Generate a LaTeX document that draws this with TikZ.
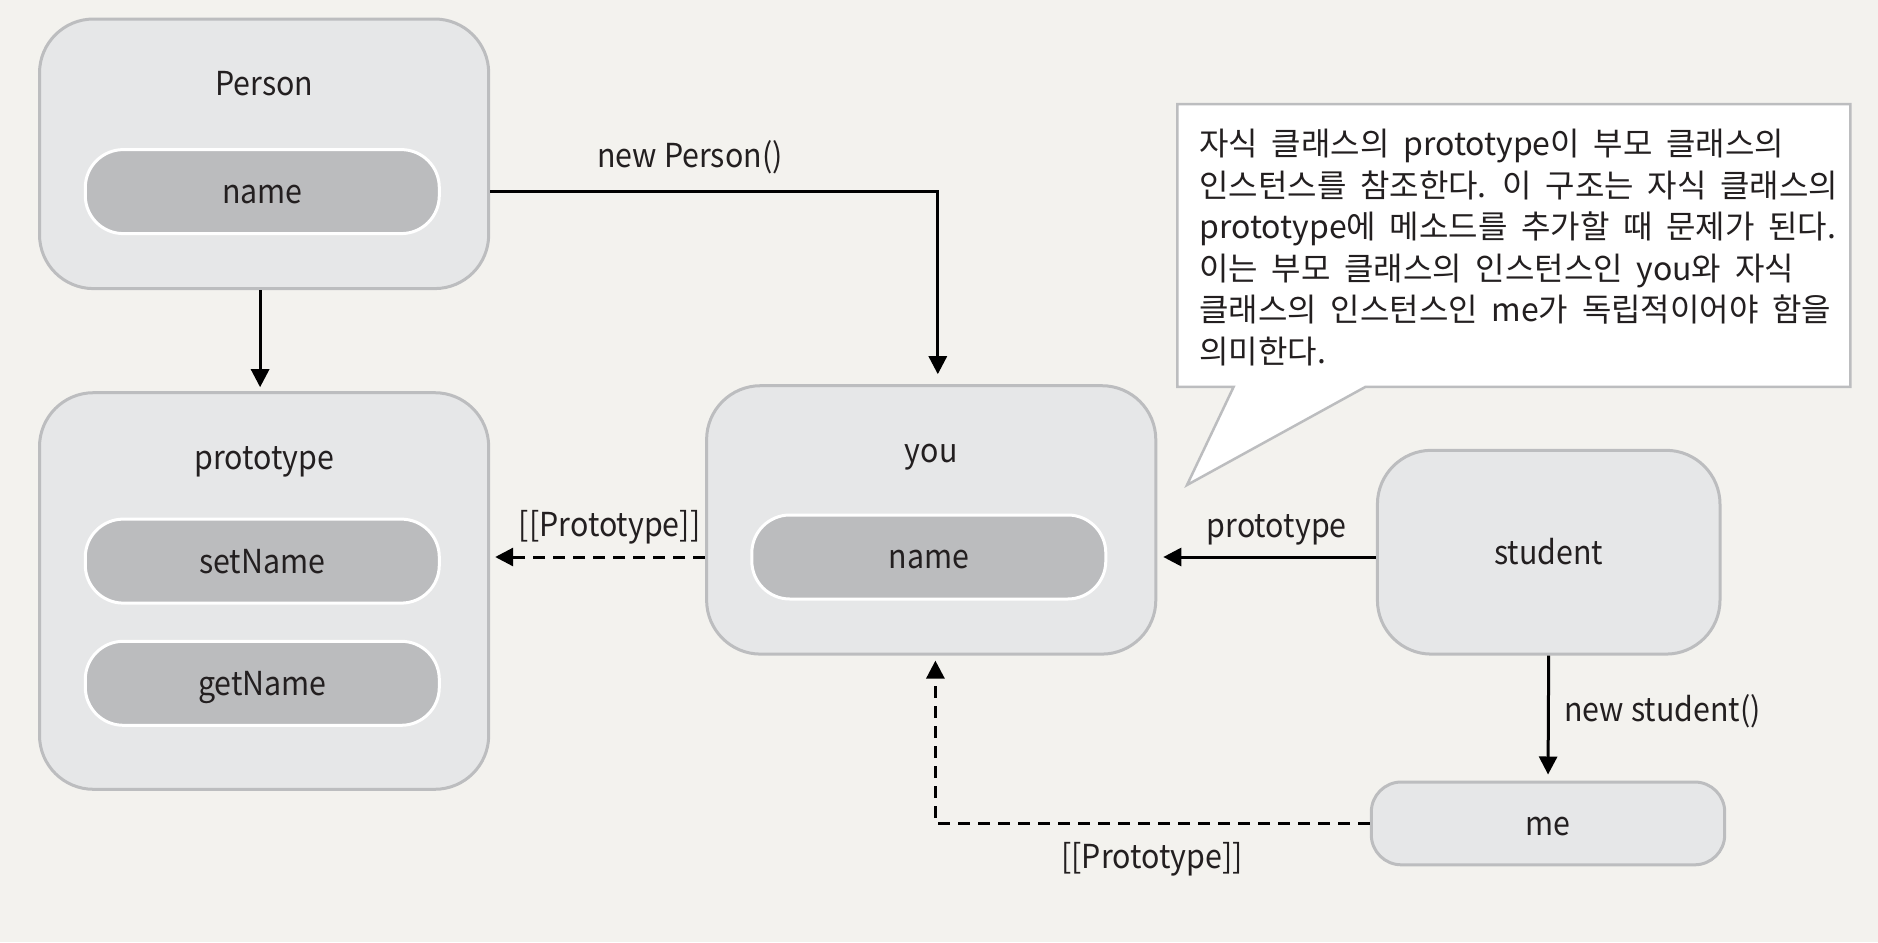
\documentclass[tikz,border=0pt]{standalone}
\usepackage{fontspec}
\setmainfont{Noto Sans CJK KR}
\newfontfamily\lblfont[FakeStretch=0.92]{Noto Sans CJK KR}
\newfontfamily\notefont[WordSpace=1.9]{Noto Sans CJK KR}
\usetikzlibrary{arrows.meta}
\definecolor{paper}{HTML}{F3F2EE}
\definecolor{boxfill}{HTML}{E6E7E8}
\definecolor{boxline}{HTML}{BCBDBF}
\definecolor{innerfill}{HTML}{BBBCBE}
\definecolor{ink}{HTML}{231F20}
\tikzset{
  outerbox/.style={rounded corners=27pt, fill=boxfill, draw=boxline, line width=1.5pt, inner sep=0pt},
  lbl/.style={font=\lblfont\fontsize{16.5pt}{19pt}\selectfont, text=ink, inner sep=0pt, text height=11.9pt, text depth=0pt},
  innerbox/.style={lbl, rounded corners=19pt, fill=innerfill, draw=white, line width=1.5pt, minimum width=177pt, minimum height=42pt},
  arr/.style={line width=1.5pt, -{Triangle[width=9pt,length=9pt]}},
  darr/.style={arr, dash pattern=on 6pt off 4pt}
}
\begin{document}
\begin{tikzpicture}[x=0.5pt,y=-0.5pt]
\useasboundingbox[fill=paper] (0,0) rectangle (1878,942);

% Person
\node[outerbox, minimum width=224.6pt, minimum height=134.8pt] (Person) at (264.1,153.8) {};
\node[lbl] (PersonL) at (264.1,83.8) {Person};
\node[innerbox] (pname) at (262.3,191.6) {name};

% prototype
\node[outerbox, minimum width=224.6pt, minimum height=198.3pt] (proto) at (264.1,591) {};
\node[lbl] (protoL) at (264.1,457.5) {prototype};
\node[innerbox] (setN) at (262.3,561.1) {setName};
\node[innerbox] (getN) at (262.3,683.3) {getName};

% you
\node[outerbox, minimum width=224.6pt, minimum height=134.2pt] (you) at (931.2,519.9) {};
\node[lbl] (youL) at (931.2,450.3) {you};
\node[innerbox] (yname) at (928.8,557) {name};

% student
\node[outerbox, minimum width=171.3pt, minimum height=101.9pt] (student) at (1548.7,552.2) {};
\node[lbl] (studentL) at (1548.7,552.2) {student};

% me
\node[outerbox, rounded corners=15pt, minimum width=176.7pt, minimum height=41.4pt] (me) at (1548,823.4) {};
\node[lbl] (meL) at (1548,823.4) {me};

% callout
\draw[fill=white, draw=boxline, line width=1.25pt]
  (1177.3,104.2) -- (1850.4,104.2) -- (1850.4,386.9) -- (1365.4,386.9)
  -- (1187,485) -- (1233.6,386.9) -- (1177.3,386.9) -- cycle;
\node[anchor=north west, align=left, inner sep=0pt, text=ink,
      font=\notefont\fontsize{16pt}{20.75pt}\selectfont] (note) at (1199,129)
  {자식 클래스의 prototype이 부모 클래스의\\
   인스턴스를 참조한다. 이 구조는 자식 클래스의\\
   prototype에 메소드를 추가할 때 문제가 된다.\\
   이는 부모 클래스의 인스턴스인 you와 자식\\
   클래스의 인스턴스인 me가 독립적이어야 함을\\
   의미한다.};

% connectors
\draw[arr, shorten >=2pt] ([xshift=-2pt]Person.south) -- ([xshift=-2pt]proto.north);
\draw[arr, shorten >=5pt] (Person.east |- pname.center) -| ([xshift=3.3pt]you.north);
\node[lbl] (npL) at (690,155.7) {new Person()};

\draw[darr, shorten >=2.5pt] (you.west |- yname.center) -- (proto.east |- yname.center);
\node[lbl] (pp1) at (609.6,524.6) {[[Prototype]]};

\draw[arr, shorten >=3pt] (student.west |- yname.center) -- (you.east |- yname.center);
\node[lbl] (ptL) at (1276.7,525.8) {prototype};

\draw[arr, shorten >=3pt] (student.south) -- (me.north);
\node[lbl, anchor=west] (nsL) at (1564,710) {new student()};

\draw[darr, shorten >=2.5pt] (me.west) -| ([xshift=2.1pt]you.south);
\node[lbl] (pp2) at (1152,857) {[[Prototype]]};
\end{tikzpicture}
\end{document}
